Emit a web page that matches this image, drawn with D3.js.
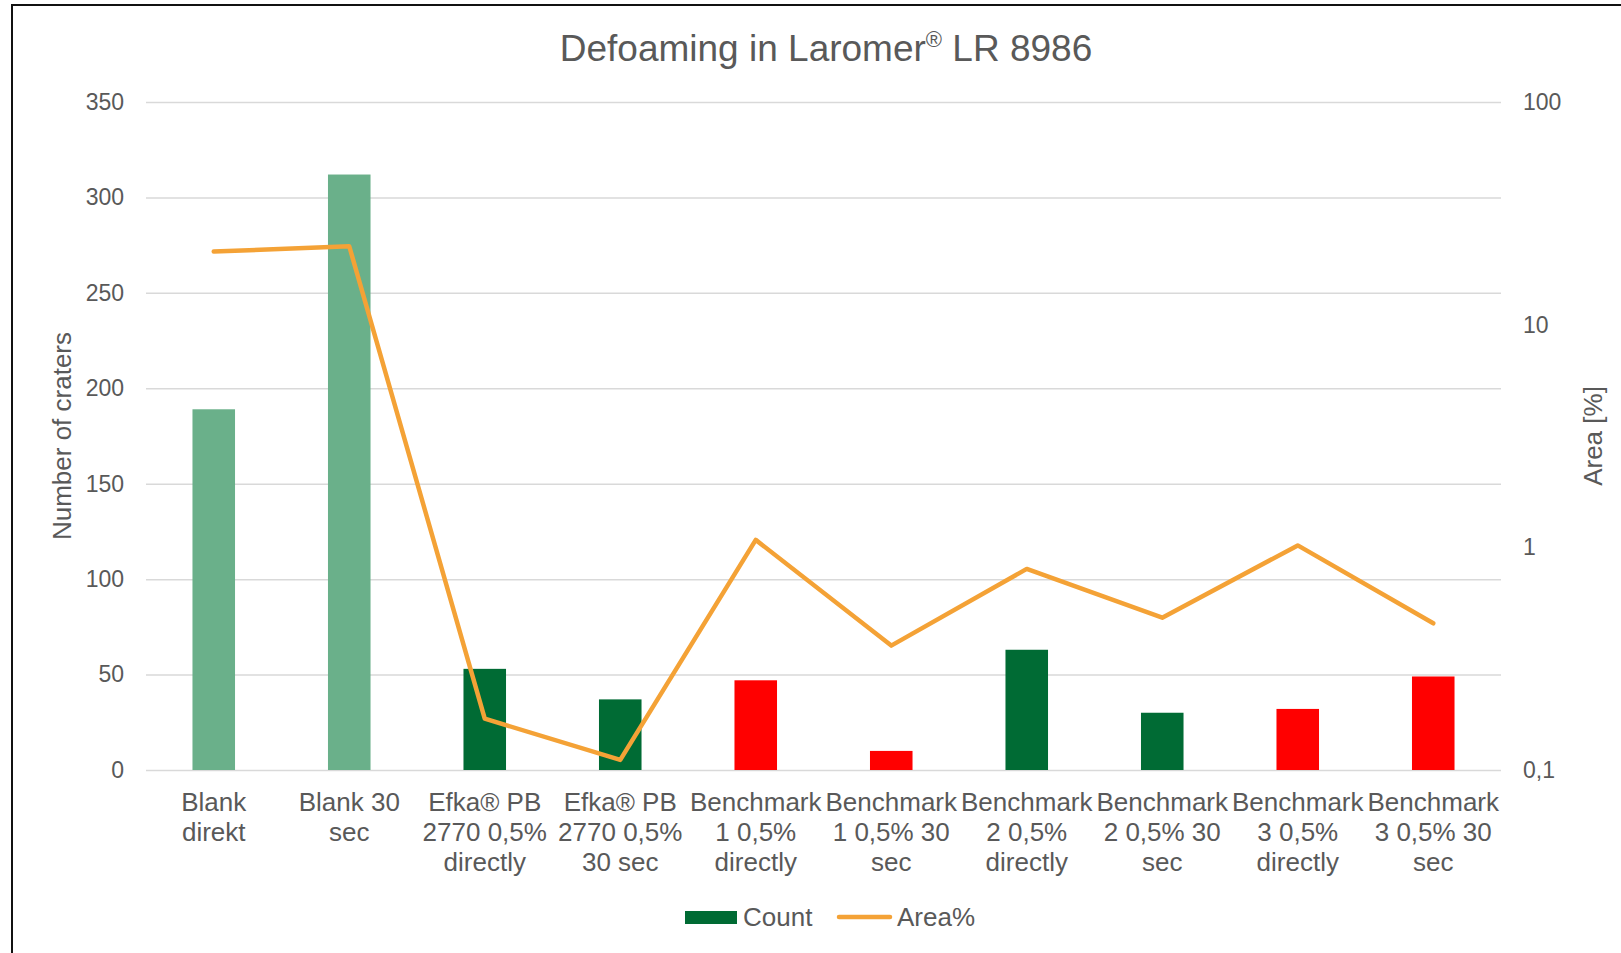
<!DOCTYPE html>
<html>
<head>
<meta charset="utf-8">
<script src="https://cdn.jsdelivr.net/npm/d3@7"></script>
<style>
  body { margin: 0; background: #fff; }
  text { font-family: "Liberation Sans", Arial, sans-serif; fill: #595959; }
</style>
</head>
<body>
<div id="chart"></div>
<script>
// data
const categoryLines = [
  ["Blank", "direkt"],
  ["Blank 30", "sec"],
  ["Efka® PB", "2770 0,5%", "directly"],
  ["Efka® PB", "2770 0,5%", "30 sec"],
  ["Benchmark", "1 0,5%", "directly"],
  ["Benchmark", "1 0,5% 30", "sec"],
  ["Benchmark", "2 0,5%", "directly"],
  ["Benchmark", "2 0,5% 30", "sec"],
  ["Benchmark", "3 0,5%", "directly"],
  ["Benchmark", "3 0,5% 30", "sec"]
];
const countValues = [189, 312, 53, 37, 47, 10, 63, 30, 32, 49];
const areaValues = [21.3, 22.5, 0.17, 0.111, 1.08, 0.362, 0.8, 0.483, 1.02, 0.456];
const barGroups = ["blank", "blank", "efka", "efka", "bench", "bench", "efka", "efka", "bench", "bench"];
const leftTicks = [0, 50, 100, 150, 200, 250, 300, 350];
const rightTicks = [0.1, 1, 10, 100];

const W = 1621, H = 953;
const plot = { left: 146, right: 1501, top: 102, bottom: 770 };

const colors = { blank: "#6AB08A", efka: "#006B34", bench: "#FF0000", line: "#F4A236" };

const svg = d3.select("#chart").append("svg")
  .attr("width", W)
  .attr("height", H);

// outer frame (only left and top edges are visible in the picture)
svg.append("rect")
  .attr("x", 12).attr("y", 5)
  .attr("width", W).attr("height", H)
  .attr("fill", "none")
  .attr("stroke", "#111")
  .attr("stroke-width", 2);

const idx = d3.range(categoryLines.length);

const x = d3.scaleBand()
  .domain(idx)
  .range([plot.left, plot.right])
  .padding(0);

const y = d3.scaleLinear()
  .domain([0, 350])
  .range([plot.bottom, plot.top]);

const y2 = d3.scaleLog()
  .domain([0.1, 100])
  .range([plot.bottom, plot.top]);

// gridlines
svg.append("g")
  .attr("transform", "translate(" + plot.left + ",0)")
  .call(d3.axisLeft(y).tickValues(leftTicks).tickSize(-(plot.right - plot.left)).tickFormat(""))
  .call(g => g.select(".domain").remove())
  .call(g => g.selectAll("line").attr("stroke", "#D9D9D9").attr("stroke-width", 1.5));

// left axis labels
svg.append("g")
  .attr("transform", "translate(" + plot.left + ",0)")
  .call(d3.axisLeft(y).tickValues(leftTicks).tickSize(0).tickPadding(22))
  .call(g => g.select(".domain").remove())
  .call(g => g.selectAll("text")
    .attr("font-size", 23)
    .attr("font-family", "Liberation Sans, Arial, sans-serif")
    .attr("fill", "#595959"));

// right axis labels
svg.append("g")
  .attr("transform", "translate(" + plot.right + ",0)")
  .call(d3.axisRight(y2).tickValues(rightTicks).tickSize(0).tickPadding(22)
    .tickFormat(d => String(d).replace(".", ",")))
  .call(g => g.select(".domain").remove())
  .call(g => g.selectAll("text")
    .attr("font-size", 23)
    .attr("font-family", "Liberation Sans, Arial, sans-serif")
    .attr("fill", "#595959"));

// bars
const barW = x.bandwidth() * 0.314;
svg.append("g")
  .selectAll("rect")
  .data(idx)
  .enter()
  .append("rect")
  .attr("x", d => x(d) + x.bandwidth() / 2 - barW / 2)
  .attr("y", d => y(countValues[d]))
  .attr("width", barW)
  .attr("height", d => y(0) - y(countValues[d]))
  .attr("fill", d => colors[barGroups[d]]);

// area line
svg.append("path")
  .datum(idx)
  .attr("fill", "none")
  .attr("stroke", colors.line)
  .attr("stroke-width", 4.5)
  .attr("stroke-linecap", "round")
  .attr("stroke-linejoin", "round")
  .attr("d", d3.line()
    .x(d => x(d) + x.bandwidth() / 2)
    .y(d => y2(areaValues[d])));

// category labels
const catG = svg.append("g");
idx.forEach(i => {
  const t = catG.append("text")
    .attr("text-anchor", "middle")
    .attr("font-size", 26)
    .attr("x", x(i) + x.bandwidth() / 2)
    .attr("y", 811);
  categoryLines[i].forEach((line, k) => {
    t.append("tspan")
      .attr("x", x(i) + x.bandwidth() / 2)
      .attr("dy", k === 0 ? 0 : 30)
      .text(line);
  });
});

// title
const title = svg.append("text")
  .attr("x", 826)
  .attr("y", 61)
  .attr("text-anchor", "middle")
  .attr("font-size", 37);
title.append("tspan").text("Defoaming in Laromer");
title.append("tspan").attr("font-size", 22).attr("dy", -14).text("®");
title.append("tspan").attr("dy", 14).text(" LR 8986");

// axis titles
svg.append("text")
  .attr("transform", "translate(71,436) rotate(-90)")
  .attr("text-anchor", "middle")
  .attr("font-size", 26)
  .text("Number of craters");

svg.append("text")
  .attr("transform", "translate(1602,436) rotate(-90)")
  .attr("text-anchor", "middle")
  .attr("font-size", 26)
  .text("Area [%]");

// legend
const legend = svg.append("g");
legend.append("rect")
  .attr("x", 685).attr("y", 911)
  .attr("width", 52).attr("height", 13)
  .attr("fill", colors.efka);
legend.append("text")
  .attr("x", 743).attr("y", 926)
  .attr("font-size", 26)
  .text("Count");
legend.append("line")
  .attr("x1", 839).attr("x2", 890)
  .attr("y1", 917).attr("y2", 917)
  .attr("stroke", colors.line)
  .attr("stroke-width", 4.5)
  .attr("stroke-linecap", "round");
legend.append("text")
  .attr("x", 897).attr("y", 926)
  .attr("font-size", 26)
  .text("Area%");
</script>
</body>
</html>
